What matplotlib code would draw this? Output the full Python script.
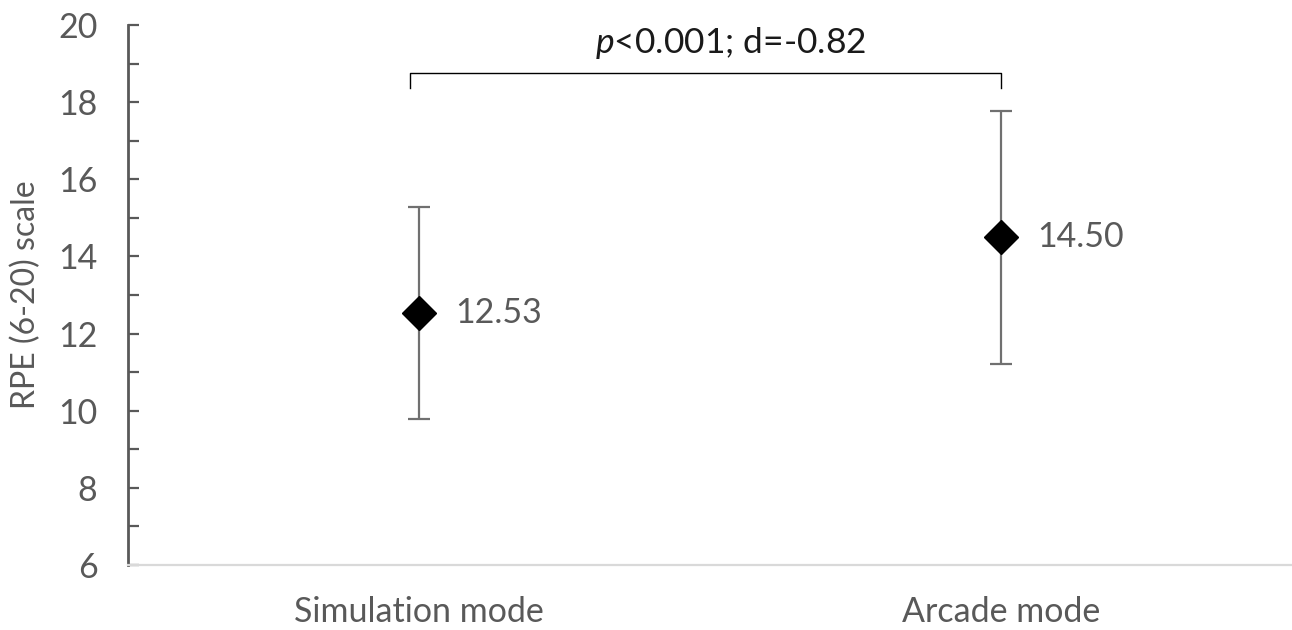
import matplotlib.pyplot as plt
from matplotlib.ticker import MultipleLocator

# data
modes = ['Simulation mode', 'Arcade mode']
means = [12.53, 14.50]
sds = [2.75, 3.28]
value_labels = ['12.53', '14.50']
stat_text = r'$\it{p}$<0.001; d=-0.82'

plt.rcParams['font.family'] = ['Lato', 'DejaVu Sans']
plt.rcParams['mathtext.fontset'] = 'custom'
plt.rcParams['mathtext.it'] = 'Lato:italic'
grey = '#595959'
fs = 24.5

fig = plt.figure(figsize=(12.92, 6.3), dpi=100)
ax = fig.add_axes([128 / 1292, 65 / 630, 1164 / 1292, 540 / 630])

x = list(range(len(modes)))
ax.errorbar(x, means, yerr=sds, fmt='none', ecolor='#707070',
            elinewidth=1.6, capsize=8, capthick=1.6, zorder=2)
ax.plot(x, means, linestyle='none', marker='D', markersize=17,
        color='black', zorder=3)

for xi, m, lab in zip(x, means, value_labels):
    ax.annotate(lab, (xi, m), xytext=(26, 0), textcoords='offset points',
                ha='left', va='center', fontsize=fs, color=grey)

# significance bracket
y_br, y_tip = 18.76, 18.37
ax.plot([-0.015, -0.015, 1.0, 1.0], [y_tip, y_br, y_br, y_tip],
        color='black', linewidth=1.0, zorder=2)
ax.text(0.536, 19.53, stat_text, ha='center', va='center',
        fontsize=25.5, color='#1a1a1a')

ax.set_xlim(-0.5, 1.5)
ax.set_ylim(6, 20)
ax.set_xticks(x)
ax.set_xticklabels(modes)
ax.yaxis.set_major_locator(MultipleLocator(2))
ax.yaxis.set_minor_locator(MultipleLocator(1))
ax.tick_params(axis='y', which='both', direction='in', length=8,
               width=1.6, color=grey, labelsize=fs, labelcolor=grey, pad=22)
ax.tick_params(axis='x', length=0, labelsize=fs, labelcolor=grey, pad=22)

for s in ['top', 'right']:
    ax.spines[s].set_visible(False)
ax.spines['left'].set_color(grey)
ax.spines['left'].set_linewidth(2)
ax.spines['bottom'].set_color('#d9d9d9')
ax.spines['bottom'].set_linewidth(1.6)

ax.set_ylabel('RPE (6-20) scale', fontsize=23, color=grey, labelpad=12)

fig.savefig('out.png', dpi=100)
